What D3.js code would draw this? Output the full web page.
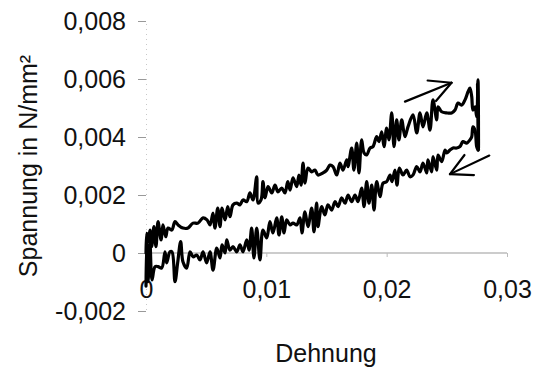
<!DOCTYPE html>
<html>
<head>
<meta charset="utf-8">
<script src="https://cdn.jsdelivr.net/npm/d3@7/dist/d3.min.js"></script>
<style>
  html, body { margin: 0; padding: 0; background: #fff; }
  svg { display: block; }
  text { font-family: "Liberation Sans", Arial, Helvetica, sans-serif; fill: #111; }
</style>
</head>
<body>
<svg id="chart" width="538" height="371"></svg>
<script>
// Hysteresis loop: stress vs. strain, loading branch then unloading branch
const strainLoad = [
  0, 0.00006, 0.00017, 0.00033, 0.00047, 0.00066, 0.00083, 0.00100, 0.00125, 0.00141,
  0.00164, 0.00183, 0.00214, 0.00241, 0.00266, 0.00307, 0.00349, 0.00391, 0.00432, 0.00474,
  0.00507, 0.00532, 0.00557, 0.00573, 0.00596, 0.00615, 0.00632, 0.00657, 0.00679, 0.00698,
  0.00723, 0.00754, 0.00781, 0.00806, 0.00837, 0.00864, 0.00889, 0.00920, 0.00931, 0.00956,
  0.00972, 0.00989, 0.01014, 0.01045, 0.01072, 0.01097, 0.01128, 0.01155, 0.01178, 0.01197,
  0.01222, 0.01252, 0.01271, 0.01288, 0.01305, 0.01321, 0.01346, 0.01377, 0.01404, 0.01429,
  0.01471, 0.01502, 0.01529, 0.01554, 0.01585, 0.01612, 0.01637, 0.01668, 0.01679, 0.01709,
  0.01728, 0.01751, 0.01770, 0.01792, 0.01812, 0.01834, 0.01861, 0.01886, 0.01917, 0.01936,
  0.01959, 0.01978, 0.02000, 0.02019, 0.02042, 0.02061, 0.02083, 0.02102, 0.02125, 0.02152,
  0.02177, 0.02219, 0.02250, 0.02277, 0.02302, 0.02333, 0.02360, 0.02385, 0.02416, 0.02427,
  0.02457, 0.02499, 0.02540, 0.02568, 0.02593, 0.02623, 0.02651, 0.02676, 0.02692, 0.02707,
  0.02717, 0.02734, 0.02748, 0.02759, 0.02763, 0.02755, 0.02761
];
const stressLoad = [
  0, 0.00068, 0.00038, 0.00079, 0.00022, 0.00091, 0.00022, 0.00108, 0.00045, 0.00097,
  0.00056, 0.00086, 0.00079, 0.00108, 0.00097, 0.00086, 0.00086, 0.00103, 0.00103, 0.00121,
  0.00114, 0.00097, 0.00138, 0.00086, 0.00155, 0.00091, 0.00155, 0.00114, 0.00160, 0.00125,
  0.00166, 0.00172, 0.00166, 0.00183, 0.00177, 0.00207, 0.00183, 0.00263, 0.00172, 0.00183,
  0.00246, 0.00190, 0.00229, 0.00207, 0.00234, 0.00211, 0.00224, 0.00207, 0.00246, 0.00217,
  0.00259, 0.00229, 0.00269, 0.00234, 0.00310, 0.00241, 0.00293, 0.00280, 0.00286, 0.00269,
  0.00276, 0.00286, 0.00303, 0.00298, 0.00269, 0.00310, 0.00286, 0.00321, 0.00298, 0.00362,
  0.00286, 0.00379, 0.00276, 0.00390, 0.00345, 0.00338, 0.00362, 0.00367, 0.00401, 0.00384,
  0.00418, 0.00367, 0.00431, 0.00390, 0.00483, 0.00367, 0.00459, 0.00390, 0.00459, 0.00401,
  0.00435, 0.00476, 0.00414, 0.00483, 0.00435, 0.00483, 0.00424, 0.00528, 0.00459, 0.00504,
  0.00487, 0.00483, 0.00483, 0.00493, 0.00517, 0.00510, 0.00528, 0.00556, 0.00569, 0.00539,
  0.00493, 0.00504, 0.00470, 0.00597, 0.00355, 0.00583, 0.00362
];
const strainUnload = [
  0.02759, 0.02748, 0.02734, 0.02717, 0.02707, 0.02692, 0.02665, 0.02634, 0.02609, 0.02582,
  0.02551, 0.02526, 0.02499, 0.02485, 0.02457, 0.02427, 0.02416, 0.02385, 0.02374, 0.02343,
  0.02333, 0.02302, 0.02277, 0.02250, 0.02219, 0.02194, 0.02166, 0.02136, 0.02105, 0.02086,
  0.02069, 0.02044, 0.02028, 0.02000, 0.01970, 0.01945, 0.01917, 0.01895, 0.01876, 0.01853,
  0.01834, 0.01812, 0.01792, 0.01762, 0.01737, 0.01709, 0.01679, 0.01654, 0.01626, 0.01596,
  0.01571, 0.01543, 0.01512, 0.01487, 0.01460, 0.01429, 0.01418, 0.01396, 0.01377, 0.01346,
  0.01321, 0.01296, 0.01280, 0.01252, 0.01222, 0.01197, 0.01169, 0.01147, 0.01128, 0.01105,
  0.01086, 0.01055, 0.01030, 0.01003, 0.00972, 0.00947, 0.00920, 0.00897, 0.00878, 0.00856,
  0.00837, 0.00806, 0.00781, 0.00754, 0.00723, 0.00698, 0.00671, 0.00657, 0.00632, 0.00615,
  0.00588, 0.00557, 0.00532, 0.00504, 0.00474, 0.00449, 0.00421, 0.00391, 0.00366, 0.00338,
  0.00307, 0.00288, 0.00263, 0.00241, 0.00216, 0.00199, 0.00172, 0.00158, 0.00130, 0.00100,
  0.00075, 0.00050, 0.00033, 0.00017, 0.00006, 0
];
const stressUnload = [
  0.00355, 0.00367, 0.00424, 0.00435, 0.00401, 0.00390, 0.00379, 0.00384, 0.00367, 0.00362,
  0.00362, 0.00355, 0.00345, 0.00355, 0.00315, 0.00338, 0.00286, 0.00332, 0.00280, 0.00321,
  0.00276, 0.00310, 0.00280, 0.00298, 0.00269, 0.00263, 0.00286, 0.00269, 0.00293, 0.00234,
  0.00286, 0.00246, 0.00269, 0.00246, 0.00241, 0.00194, 0.00246, 0.00148, 0.00234, 0.00172,
  0.00246, 0.00160, 0.00224, 0.00177, 0.00200, 0.00177, 0.00200, 0.00172, 0.00190, 0.00160,
  0.00177, 0.00148, 0.00166, 0.00131, 0.00160, 0.00091, 0.00172, 0.00073, 0.00155, 0.00091,
  0.00142, 0.00069, 0.00121, 0.00097, 0.00103, 0.00097, 0.00114, 0.00069, 0.00125, 0.00062,
  0.00121, 0.00069, 0.00108, 0.00052, 0.00079, -0.00024, 0.00086, -0.00017, 0.00086, 0.00010,
  0.00045, 0.00004, 0.00028, 0.00004, 0.00022, 0.00010, 0.00045, 0.00000, 0.00028, -0.00017,
  0.00017, -0.00059, 0.00004, -0.00034, 0.00004, -0.00024, -0.00007, -0.00013, 0.00004, -0.00052,
  -0.00030, 0.00039, -0.00034, -0.00099, 0.00004, 0.00004, -0.00034, 0.00004, -0.00052, -0.00047,
  -0.00047, -0.00093, 0.00034, -0.00099, 0.00039, -0.00114
];

// Axis ticks and labels
const xTicks = [0, 0.01, 0.02, 0.03];
const xTickLabels = ["0", "0,01", "0,02", "0,03"];
const yTicks = [-0.002, 0, 0.002, 0.004, 0.006, 0.008];
const yTickLabels = ["-0,002", "0", "0,002", "0,004", "0,006", "0,008"];
const xTitle = "Dehnung";
const yTitle = "Spannung in N/mm²";

// Direction arrows: [shaft start, tip] in data coordinates, loading and unloading
const arrowLoad = [[0.02152, 0.00522], [0.02539, 0.00587]];
const arrowUnload = [[0.02853, 0.00336], [0.02526, 0.00272]];

const svg = d3.select("#chart");
const x = d3.scaleLinear().domain([0, 0.03]).range([146, 507]);
const y = d3.scaleLinear().domain([-0.002, 0.008]).range([311, 21]);

// y axis (faint line, short grey ticks)
const yAxis = d3.axisLeft(y).tickValues(yTicks)
  .tickFormat((d, i) => yTickLabels[i]).tickSize(8).tickPadding(12);
const gy = svg.append("g").attr("transform", "translate(146,0)").call(yAxis);
gy.select(".domain").attr("stroke", "#c8c8c8").attr("stroke-dasharray", "1,4");
gy.selectAll(".tick line").attr("stroke", "#999");
gy.selectAll(".tick text").attr("font-size", 25).attr("fill", "#111")
  .style("font-family", "'Liberation Sans', Arial, sans-serif");

// x axis sits at stress = 0
const xAxis = d3.axisBottom(x).tickValues(xTicks)
  .tickFormat((d, i) => xTickLabels[i]).tickSize(4).tickPadding(23);
const gx = svg.append("g").attr("transform", `translate(0,${y(0)})`).call(xAxis);
gx.select(".domain").attr("stroke", "#999").attr("d", `M${x(0)},0H${x(0.03)}`);
gx.selectAll(".tick line").attr("stroke", "#bbb");
gx.selectAll(".tick text").attr("font-size", 25).attr("fill", "#111")
  .style("font-family", "'Liberation Sans', Arial, sans-serif");

// Curves
const line = d3.line().x(d => x(d[0])).y(d => y(d[1])).curve(d3.curveCatmullRom.alpha(0.5));
const loadPts = strainLoad.map((s, i) => [s, stressLoad[i]]);
const unloadPts = strainUnload.map((s, i) => [s, stressUnload[i]]);
[loadPts, unloadPts].forEach(pts => {
  svg.append("path").datum(pts).attr("d", line)
    .attr("fill", "none").attr("stroke", "#000").attr("stroke-width", 3.2)
    .attr("stroke-linejoin", "round").attr("stroke-linecap", "round");
});

// Arrows with open heads
function drawArrow(a) {
  const [p0, p1] = a;
  const x0 = x(p0[0]), y0 = y(p0[1]), x1 = x(p1[0]), y1 = y(p1[1]);
  const ang = Math.atan2(y1 - y0, x1 - x0);
  const len = 24, spread = 0.48;
  const g = svg.append("g").attr("stroke", "#000").attr("stroke-width", 2.2).attr("fill", "none")
    .attr("stroke-linecap", "round");
  g.append("line").attr("x1", x0).attr("y1", y0).attr("x2", x1).attr("y2", y1);
  [-spread, spread].forEach(s => {
    g.append("line").attr("x1", x1).attr("y1", y1)
      .attr("x2", x1 - len * Math.cos(ang + s)).attr("y2", y1 - len * Math.sin(ang + s));
  });
}
drawArrow(arrowLoad);
drawArrow(arrowUnload);

// Axis titles
svg.append("text").attr("x", 326).attr("y", 362).attr("text-anchor", "middle")
  .attr("font-size", 25).text(xTitle);
svg.append("text").attr("transform", "translate(37,166) rotate(-90)")
  .attr("text-anchor", "middle").attr("font-size", 25).text(yTitle);
</script>
</body>
</html>
